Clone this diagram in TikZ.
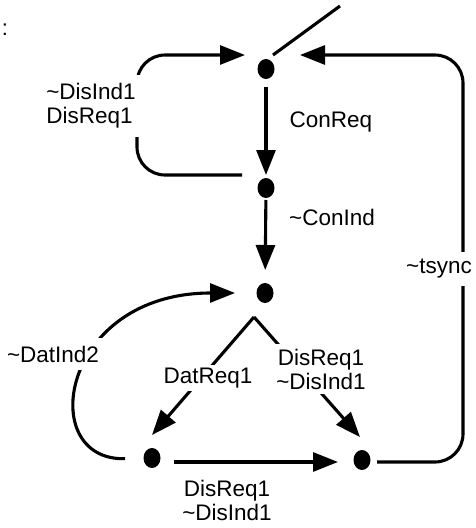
\documentclass[tikz,border=0pt]{standalone}
\usepackage{fontspec}
\setmainfont{Liberation Sans}
\usetikzlibrary{arrows.meta,shapes.geometric}
\newcommand{\tl}{\textasciitilde}
\begin{document}
\begin{tikzpicture}[x=1pt,y=-1pt,
  dot/.style={ellipse,fill=black,minimum width=17pt,minimum height=20pt,inner sep=0pt},
  edge/.style={line width=3.1pt},
  arr/.style={edge,-{Triangle[length=25pt,width=19pt]}},
  lbl/.style={fill=white,inner sep=3pt,align=center,font=\fontsize{22.5}{24}\selectfont},
  lbll/.style={lbl,align=left}]
\useasboundingbox (0,0) rectangle (476,528);
\node[font=\fontsize{22}{24}\selectfont] (colon) at (5,30) {:};
\node[dot] (A) at (266,69) {};
\node[dot] (B) at (266,188) {};
\node[dot] (C) at (265,293) {};
\node[dot] (D) at (152,458) {};
\node[dot] (E) at (362,460) {};
\coordinate (init) at (340,6);
\coordinate (fork) at (254,317);
% initial stroke
\draw[edge] ([shift={(7,-14)}]A.center) -- (init);
% vertical chain
\draw[arr,shorten <=18pt,shorten >=13pt] (A.center) -- (B.center);
\draw[arr,shorten <=12pt,shorten >=23pt] (B.center) -- (C.center);
\node[lbl] (lConReq) at (331,122) {ConReq};
\node[lbl] (lConInd) at (332,217) {\tl ConInd};
% left upper loop
\draw[arr,rounded corners=28pt] ([shift={(-24,-13)}]B.center) -- (137,175) -- (137,55) -- ([shift={(-21,-14)}]A.center);
\node[lbll,inner xsep=6pt,inner ysep=9pt] (lDis) at (91,106) {\tl DisInd1\\DisReq1};
% right loop
\draw[arr,rounded corners=28pt] ([shift={(15,2)}]E.center) -- (463,462) -- (463,55) -- ([shift={(34,-14)}]A.center);
\node[lbl,inner ysep=7pt,inner xsep=2pt] (ltsync) at (439,269) {\tl tsync};
% fork
\draw[arr] (fork) -- ([shift={(0,-23)}]D.center);
\draw[arr] (fork) -- ([shift={(-2,-23)}]E.center);
\node[lbl] (lDatReq) at (208,378) {DatReq1};
\node[lbl,inner sep=5pt] (lDisR) at (321,369) {DisReq1\\\tl DisInd1};
% bottom
\draw[arr] ([shift={(22,4)}]D.center) -- ([shift={(-24,2)}]E.center);
\node[lbl] (lDisB) at (227,500) {DisReq1\\\tl DisInd1};
% left lower loop
\draw[arr,shorten <=27pt,shorten >=30pt] (D.center) .. controls (35,461) and (60,293) .. (C.center);
\node[lbl,inner xsep=4pt,inner ysep=8pt] (lDat) at (53,354) {\tl DatInd2};
\end{tikzpicture}
\end{document}
